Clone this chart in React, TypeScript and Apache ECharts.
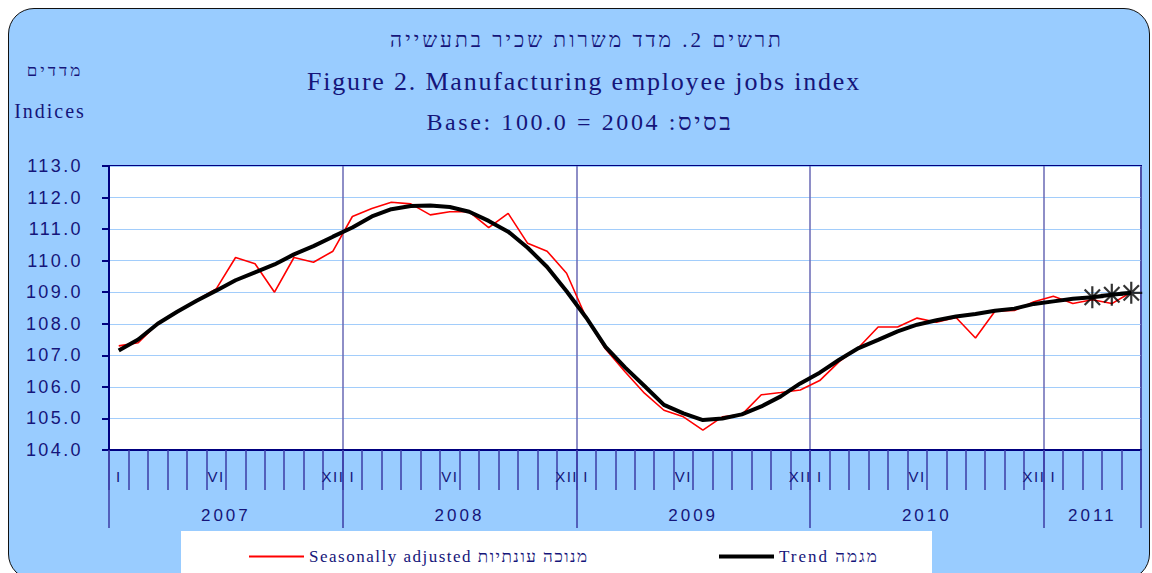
import React, { useEffect, useRef } from 'react';
import * as echarts from 'echarts';

// ---------- data ----------
const years = ['2007', '2008', '2009', '2010', '2011'];
const monthsPerYear = [12, 12, 12, 12, 5];
const romanMonthLabels = ['I', '', '', '', '', 'VI', '', '', '', '', '', 'XII'];

const seasonallyAdjusted = [
  107.3, 107.4, 108.0, 108.4, 108.75, 109.1, 110.1, 109.9, 109.0, 110.1, 109.95, 110.3,
  111.4, 111.65, 111.85, 111.8, 111.45, 111.55, 111.55, 111.05, 111.5, 110.55, 110.3, 109.6,
  108.2, 107.2, 106.48, 105.8, 105.26, 105.05, 104.63, 105.05, 105.12, 105.75, 105.82, 105.9,
  106.2, 106.8, 107.25, 107.9, 107.9, 108.18, 108.05, 108.2, 107.55, 108.4, 108.42, 108.7,
  108.87, 108.64, 108.76, 108.64, 109.0,
];

const trend = [
  107.15, 107.5, 108.0, 108.38, 108.73, 109.05, 109.38, 109.63, 109.88, 110.2, 110.46, 110.76,
  111.05, 111.4, 111.63, 111.73, 111.75, 111.7, 111.55, 111.26, 110.92, 110.41, 109.8, 109.03,
  108.2, 107.27, 106.62, 106.03, 105.43, 105.16, 104.95, 105.0, 105.13, 105.38, 105.7, 106.11,
  106.45, 106.86, 107.23, 107.49, 107.76, 107.97, 108.11, 108.23, 108.31, 108.41, 108.48, 108.63,
  108.71, 108.79, 108.84, 108.92, 108.98,
];
const markedTrendCount = 3; // last trend points drawn with an asterisk

const yMin = 104;
const yMax = 113;
const yStep = 1;

const titleHe = 'תרשים 2. מדד משרות שכיר בתעשייה';
const titleEn = 'Figure 2. Manufacturing employee jobs index';
const titleBase = 'Base: 100.0 = 2004 :בסיס';
const unitHe = 'מדדים';
const unitEn = 'Indices';
const legendSA = 'Seasonally adjusted מנוכה עונתיות';
const legendTrend = 'Trend מגמה';

// ---------- helpers ----------
const categories: string[] = [];
const monthOfCategory: number[] = [];
years.forEach((y, yi) => {
  for (let m = 0; m < monthsPerYear[yi]; m++) {
    categories.push(`${y}-${String(m + 1).padStart(2, '0')}`);
    monthOfCategory.push(m);
  }
});
const yearCenters: number[] = [];
{
  let start = 0;
  monthsPerYear.forEach((n) => {
    yearCenters.push(start + n / 2);
    start += n;
  });
}

const NAVY = '#15157a';
const AXIS_NAVY = '#000080';
const TICK = '#3c3ca6';
const SERIF = "'Liberation Serif', 'Times New Roman', serif";
const NARROW = "'Liberation Sans Narrow', 'Arial Narrow', 'Liberation Sans', Arial, sans-serif";
const ASTERISK = 'path://M0,10L20,10M10,0L10,20M3,3L17,17M17,3L3,17';

function spacingFor(s: string): number {
  if (s === titleHe) return 3;
  if (s === titleEn) return 1.8;
  if (s === titleBase) return 2.6;
  if (s === unitHe) return 3;
  if (s === unitEn) return 2;
  if (s === legendSA) return 1.5;
  if (s === legendTrend) return 2;
  if (/^\d{3}\.\d$/.test(s)) return 2.4;
  if (/^\d{4}$/.test(s)) return 3;
  if (/^[IVX]+$/.test(s)) return 1.5;
  return 0;
}

export default function App() {
  const ref = useRef<HTMLDivElement>(null);

  useEffect(() => {
    if (!ref.current) return;
    const el = ref.current;
    const chart = echarts.init(el, undefined, { renderer: 'svg' });

    const trendMarks = trend
      .map((v, i) => [i, v] as [number, number])
      .slice(trend.length - markedTrendCount);

    const option: any = {
      animation: false,
      textStyle: { fontFamily: NARROW },
      grid: {
        left: 109,
        top: 166,
        width: 1032,
        height: 284,
        show: true,
        backgroundColor: '#ffffff',
        borderColor: AXIS_NAVY,
        borderWidth: 2,
        containLabel: false,
      },
      xAxis: [
        {
          type: 'category',
          data: categories,
          boundaryGap: true,
          position: 'bottom',
          axisLine: { show: true, lineStyle: { color: AXIS_NAVY, width: 2 } },
          axisTick: { show: true, interval: 0, length: 40, lineStyle: { color: TICK, width: 1.5 } },
          axisLabel: {
            interval: 0,
            formatter: (_v: string, idx: number) => romanMonthLabels[monthOfCategory[idx]] || '',
            color: NAVY,
            fontSize: 15,
            fontFamily: NARROW,
            margin: 19,
          },
          splitLine: { show: false },
        },
        {
          type: 'category',
          data: categories,
          boundaryGap: true,
          position: 'bottom',
          offset: 0,
          axisLine: { show: false },
          axisTick: {
            show: true,
            interval: (idx: number) => monthOfCategory[idx] === 0,
            length: 78,
            lineStyle: { color: TICK, width: 1.5 },
          },
          axisLabel: { show: false },
          splitLine: {
            show: true,
            interval: (idx: number) => monthOfCategory[idx] === 0,
            lineStyle: { color: '#6868b4', width: 1.5 },
          },
        },
        {
          type: 'value',
          min: 0,
          max: categories.length,
          interval: 0.5,
          position: 'bottom',
          offset: 0,
          axisLine: { show: false },
          axisTick: { show: false },
          splitLine: { show: false },
          axisLabel: {
            formatter: (v: number) => {
              const k = yearCenters.findIndex((c) => Math.abs(c - v) < 1e-6);
              return k >= 0 ? years[k] : '';
            },
            color: NAVY,
            fontSize: 17,
            fontFamily: NARROW,
            margin: 57,
          },
        },
      ],
      yAxis: {
        type: 'value',
        min: yMin,
        max: yMax,
        interval: yStep,
        axisLine: { show: true, lineStyle: { color: AXIS_NAVY, width: 2 } },
        axisTick: { show: true, length: 7, lineStyle: { color: AXIS_NAVY, width: 2 } },
        axisLabel: {
          formatter: (v: number) => v.toFixed(1),
          color: NAVY,
          fontSize: 18,
          fontFamily: NARROW,
          margin: 26,
        },
        splitLine: { show: true, lineStyle: { color: '#a2cdfb', width: 1.2 } },
      },
      legend: [
        {
          data: [legendSA],
          left: 244,
          top: 543,
          icon: 'rect',
          itemWidth: 55,
          itemHeight: 2,
          selectedMode: false,
          textStyle: { fontFamily: SERIF, fontSize: 17, color: NAVY },
        },
        {
          data: [legendTrend],
          left: 714,
          top: 543,
          icon: 'rect',
          itemWidth: 55,
          itemHeight: 4,
          selectedMode: false,
          textStyle: { fontFamily: SERIF, fontSize: 17, color: NAVY },
        },
      ],
      series: [
        {
          name: legendSA,
          type: 'line',
          xAxisIndex: 0,
          data: seasonallyAdjusted,
          symbol: 'none',
          lineStyle: { color: '#ff0000', width: 1.6 },
          itemStyle: { color: '#ff0000' },
          z: 2,
        },
        {
          name: legendTrend,
          type: 'line',
          xAxisIndex: 0,
          data: trend,
          symbol: 'none',
          lineStyle: { color: '#000000', width: 4 },
          itemStyle: { color: '#000000' },
          z: 3,
        },
        {
          name: 'trend-marks',
          type: 'scatter',
          xAxisIndex: 0,
          data: trendMarks,
          symbol: ASTERISK,
          symbolSize: 22,
          itemStyle: { color: 'rgba(0,0,0,0)', borderColor: '#000000', borderWidth: 2.2 },
          z: 4,
        },
      ],
      graphic: [
        {
          type: 'rect',
          shape: { x: 181, y: 531, width: 751, height: 60 },
          style: { fill: '#ffffff' },
          silent: true,
        },
        {
          type: 'text', x: 587, y: 40,
          style: { text: titleHe, fontFamily: SERIF, fontSize: 21, fill: NAVY, align: 'center', verticalAlign: 'middle', textAlign: 'center', textVerticalAlign: 'middle' },
        },
        {
          type: 'text', x: 584, y: 81,
          style: { text: titleEn, fontFamily: SERIF, fontSize: 26, fill: NAVY, align: 'center', verticalAlign: 'middle', textAlign: 'center', textVerticalAlign: 'middle' },
        },
        {
          type: 'text', x: 580, y: 122,
          style: { text: titleBase, fontFamily: SERIF, fontSize: 24, fill: NAVY, align: 'center', verticalAlign: 'middle', textAlign: 'center', textVerticalAlign: 'middle' },
        },
        {
          type: 'text', x: 55, y: 70,
          style: { text: unitHe, fontFamily: SERIF, fontSize: 17, fill: NAVY, align: 'center', verticalAlign: 'middle', textAlign: 'center', textVerticalAlign: 'middle' },
        },
        {
          type: 'text', x: 50, y: 111,
          style: { text: unitEn, fontFamily: SERIF, fontSize: 20, fill: NAVY, align: 'center', verticalAlign: 'middle', textAlign: 'center', textVerticalAlign: 'middle' },
        },
      ],
    };

    chart.setOption(option);

    const applySpacing = () => {
      const svg = el.querySelector('svg');
      if (!svg) return;
      svg.querySelectorAll('text').forEach((t) => {
        const ls = spacingFor((t.textContent || '').trim());
        if (ls) t.setAttribute('letter-spacing', String(ls));
      });
    };
    applySpacing();
    chart.on('finished', applySpacing);

    return () => {
      chart.dispose();
    };
  }, []);

  return (
    <div style={{ position: 'absolute', left: 0, top: 0, width: 1152, height: 573, overflow: 'hidden', background: '#ffffff' }}>
      <div
        style={{
          position: 'absolute',
          left: 8,
          top: 8,
          width: 1142,
          height: 572,
          borderRadius: 26,
          border: '1.5px solid #111111',
          background: '#99ccff',
          boxSizing: 'border-box',
        }}
      />
      <div ref={ref} style={{ position: 'absolute', left: 0, top: 0, width: 1152, height: 573 }} />
    </div>
  );
}
